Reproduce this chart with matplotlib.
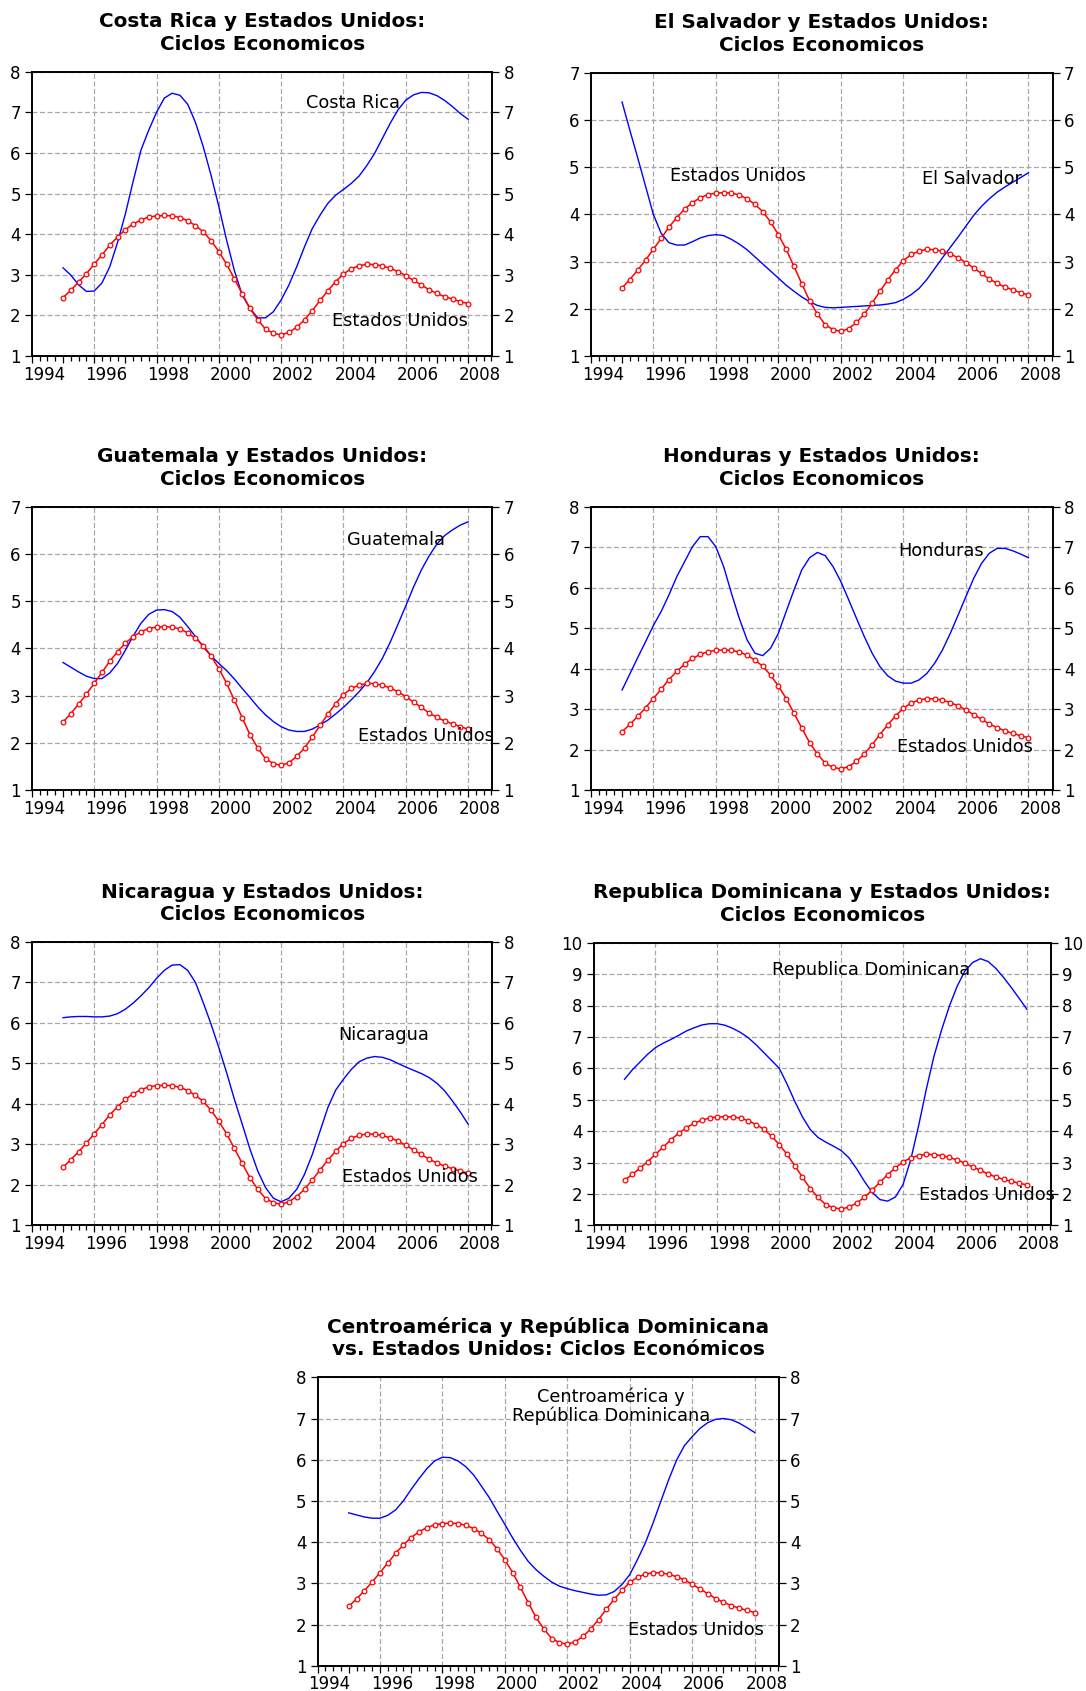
import numpy as np
import matplotlib.pyplot as plt
from matplotlib.ticker import FixedLocator
from matplotlib.transforms import ScaledTranslation

# quarterly observations, 1995Q1 .. 2008Q1
quarters = np.arange(1995.0, 2008.01, 0.25)

estados_unidos = [2.44, 2.62, 2.82, 3.03, 3.26, 3.49, 3.73, 3.93, 4.11, 4.25, 4.35, 4.42, 4.45,
                  4.46, 4.45, 4.41, 4.33, 4.21, 4.06, 3.84, 3.57, 3.26, 2.90, 2.53, 2.17, 1.89,
                  1.66, 1.56, 1.52, 1.58, 1.71, 1.89, 2.12, 2.37, 2.61, 2.83, 3.02, 3.15, 3.22,
                  3.26, 3.25, 3.22, 3.16, 3.08, 2.98, 2.86, 2.75, 2.63, 2.54, 2.46, 2.40, 2.34, 2.29]

costa_rica = [3.17, 2.99, 2.75, 2.59, 2.60, 2.80, 3.20, 3.80, 4.50, 5.30, 6.07, 6.56, 7.00,
              7.35, 7.47, 7.42, 7.20, 6.75, 6.15, 5.45, 4.68, 3.85, 3.10, 2.50, 2.17, 1.94,
              1.94, 2.09, 2.38, 2.75, 3.20, 3.69, 4.14, 4.47, 4.76, 4.96, 5.10, 5.25, 5.43,
              5.69, 5.99, 6.36, 6.73, 7.06, 7.30, 7.43, 7.49, 7.48, 7.41, 7.29, 7.14, 6.97, 6.83]

el_salvador = [6.38, 5.78, 5.20, 4.60, 4.00, 3.60, 3.40, 3.35, 3.35, 3.42, 3.50, 3.55, 3.57,
               3.55, 3.47, 3.37, 3.25, 3.10, 2.95, 2.80, 2.65, 2.50, 2.37, 2.25, 2.15, 2.07,
               2.03, 2.02, 2.03, 2.04, 2.05, 2.06, 2.07, 2.08, 2.10, 2.13, 2.20, 2.30, 2.43,
               2.62, 2.85, 3.08, 3.30, 3.52, 3.75, 3.98, 4.17, 4.33, 4.47, 4.58, 4.68, 4.78, 4.88]

guatemala = [3.70, 3.60, 3.50, 3.41, 3.36, 3.36, 3.48, 3.68, 3.96, 4.26, 4.53, 4.72, 4.81,
             4.82, 4.78, 4.66, 4.46, 4.25, 4.03, 3.84, 3.68, 3.53, 3.35, 3.15, 2.96, 2.76,
             2.59, 2.45, 2.34, 2.27, 2.24, 2.24, 2.29, 2.38, 2.48, 2.61, 2.75, 2.91, 3.08,
             3.27, 3.51, 3.79, 4.13, 4.51, 4.90, 5.30, 5.66, 5.96, 6.21, 6.39, 6.51, 6.61, 6.68]

honduras = [3.47, 3.87, 4.27, 4.66, 5.06, 5.41, 5.82, 6.27, 6.64, 7.01, 7.26, 7.26, 7.01,
            6.52, 5.86, 5.24, 4.71, 4.38, 4.32, 4.50, 4.87, 5.41, 5.94, 6.44, 6.74, 6.87,
            6.79, 6.52, 6.15, 5.70, 5.24, 4.79, 4.38, 4.05, 3.82, 3.69, 3.64, 3.64, 3.72,
            3.88, 4.13, 4.46, 4.87, 5.32, 5.78, 6.23, 6.60, 6.85, 6.97, 6.97, 6.91, 6.83, 6.74]

nicaragua = [6.13, 6.15, 6.16, 6.16, 6.15, 6.15, 6.17, 6.23, 6.34, 6.49, 6.67, 6.87, 7.10,
             7.30, 7.43, 7.44, 7.30, 7.00, 6.50, 5.97, 5.39, 4.77, 4.11, 3.50, 2.88, 2.34,
             1.93, 1.67, 1.58, 1.67, 1.89, 2.26, 2.75, 3.33, 3.91, 4.34, 4.61, 4.85, 5.04,
             5.13, 5.17, 5.15, 5.09, 5.00, 4.91, 4.83, 4.75, 4.65, 4.51, 4.32, 4.07, 3.80, 3.50]

rep_dominicana = [5.65, 5.95, 6.20, 6.45, 6.66, 6.80, 6.92, 7.05, 7.19, 7.29, 7.38, 7.42, 7.42,
                  7.37, 7.27, 7.14, 6.97, 6.75, 6.50, 6.25, 6.00, 5.50, 4.95, 4.45, 4.05, 3.80,
                  3.65, 3.52, 3.38, 3.15, 2.80, 2.40, 2.05, 1.82, 1.77, 1.90, 2.30, 3.10, 4.16,
                  5.33, 6.39, 7.24, 7.99, 8.62, 9.10, 9.37, 9.49, 9.40, 9.18, 8.89, 8.57, 8.23, 7.88]

centroamerica = [4.71, 4.66, 4.61, 4.58, 4.58, 4.65, 4.78, 5.00, 5.28, 5.54, 5.78, 5.97, 6.06,
                 6.05, 5.97, 5.83, 5.63, 5.36, 5.08, 4.75, 4.43, 4.10, 3.80, 3.53, 3.33, 3.17,
                 3.03, 2.93, 2.87, 2.82, 2.78, 2.74, 2.71, 2.72, 2.80, 2.97, 3.21, 3.58, 3.98,
                 4.47, 5.00, 5.52, 5.99, 6.34, 6.56, 6.76, 6.90, 6.98, 7.00, 6.97, 6.89, 6.78, 6.66]

years = list(range(1994, 2009))
year_labels = [str(y) if y % 2 == 0 else "" for y in years]

W, H = 1086, 1691
fig = plt.figure(figsize=(W / 100, H / 100), dpi=100)
fig.patch.set_facecolor("white")

BLUE = "#0000ff"
RED = "#ff0000"
GRID = "#a8a8a8"
TICK_FS = 12
NOTE_FS = 12.8
TITLE_FS = 14.4

# year labels are drawn a little to the right of their tick
label_shift = ScaledTranslation(12 / 100, 0, fig.dpi_scale_trans)


def panel(box, title, series, ymax, notes):
    left, right, top, bottom = box
    ax = fig.add_axes([left / W, 1 - bottom / H, (right - left) / W, (bottom - top) / H])
    ax.set_xlim(1994.0, 2008.78)
    ax.set_ylim(1, ymax)

    # grid: horizontal at each integer, vertical every two years
    ax.set_yticks(range(1, ymax + 1))
    ax.yaxis.grid(True, color=GRID, ls=(0, (4, 2)), lw=0.9)
    for yr in range(1996, 2009, 2):
        ax.axvline(yr, color=GRID, ls=(0, (4, 2)), lw=0.9, zorder=0.5)

    ax.plot(quarters, series, color=BLUE, lw=1.0, zorder=3)
    ax.plot(quarters, estados_unidos, color=RED, lw=1.1, marker="o", ms=3.4,
            mfc="white", mec=RED, mew=0.9, zorder=4)

    ax.set_xticks(years, year_labels)
    ax.xaxis.set_minor_locator(FixedLocator(np.arange(1994, 2008.8, 0.25)))
    ax.tick_params(axis="x", which="major", length=5, width=0.9, direction="out",
                   pad=2, labelsize=TICK_FS)
    ax.tick_params(axis="x", which="minor", length=3.5, width=0.9, direction="out")
    for lab in ax.get_xticklabels():
        lab.set_transform(lab.get_transform() + label_shift)
    ax.tick_params(axis="y", which="major", length=5, width=0.9, direction="out",
                   left=True, right=True, labelleft=True, labelright=True,
                   labelsize=TICK_FS, pad=3)
    for sp in ax.spines.values():
        sp.set_linewidth(1.4)

    for x, y, txt, ha in notes:
        ax.text(x, y, txt, fontsize=NOTE_FS, ha=ha, va="center", zorder=5,
                linespacing=1.0)

    xc = (left + right) / 2 / W
    fig.text(xc, 1 - (top - 44.5) / H, title[0], ha="center", va="baseline",
             fontsize=TITLE_FS, fontweight="bold")
    fig.text(xc, 1 - (top - 22) / H, title[1], ha="center", va="baseline",
             fontsize=TITLE_FS, fontweight="bold")
    return ax


ciclos = "Ciclos Economicos"

panel((31.9, 492.4, 71.7, 356), ("Costa Rica y Estados Unidos:", ciclos), costa_rica, 8,
      [(2002.8, 7.22, "Costa Rica", "left"), (2003.64, 1.87, "Estados Unidos", "left")])
panel((590.8, 1052.8, 72.7, 356), ("El Salvador y Estados Unidos:", ciclos), el_salvador, 7,
      [(1996.53, 4.82, "Estados Unidos", "left"), (2004.61, 4.75, "El Salvador", "left")])
panel((31.9, 492.4, 506.7, 790), ("Guatemala y Estados Unidos:", ciclos), guatemala, 7,
      [(2004.11, 6.29, "Guatemala", "left"), (2004.46, 2.15, "Estados Unidos", "left")])
panel((590.8, 1052.8, 506.7, 790), ("Honduras y Estados Unidos:", ciclos), honduras, 8,
      [(2003.83, 6.91, "Honduras", "left"), (2003.78, 2.07, "Estados Unidos", "left")])
panel((31.9, 492.4, 942, 1225.3), ("Nicaragua y Estados Unidos:", ciclos), nicaragua, 8,
      [(2003.84, 5.71, "Nicaragua", "left"), (2003.96, 2.2, "Estados Unidos", "left")])
panel((593.6, 1051, 942.7, 1225.3), ("Republica Dominicana y Estados Unidos:", ciclos),
      rep_dominicana, 10,
      [(1999.77, 9.13, "Republica Dominicana", "left"), (2004.52, 1.97, "Estados Unidos", "left")])
panel((317.5, 779, 1377.3, 1665.7),
      ("Centroamérica y República Dominicana", "vs. Estados Unidos: Ciclos Económicos"),
      centroamerica, 8,
      [(2003.4, 7.3, "Centroamérica y\nRepública Dominicana", "center"),
       (2003.94, 1.87, "Estados Unidos", "left")])

fig.savefig("out.png", dpi=100, facecolor="white")
